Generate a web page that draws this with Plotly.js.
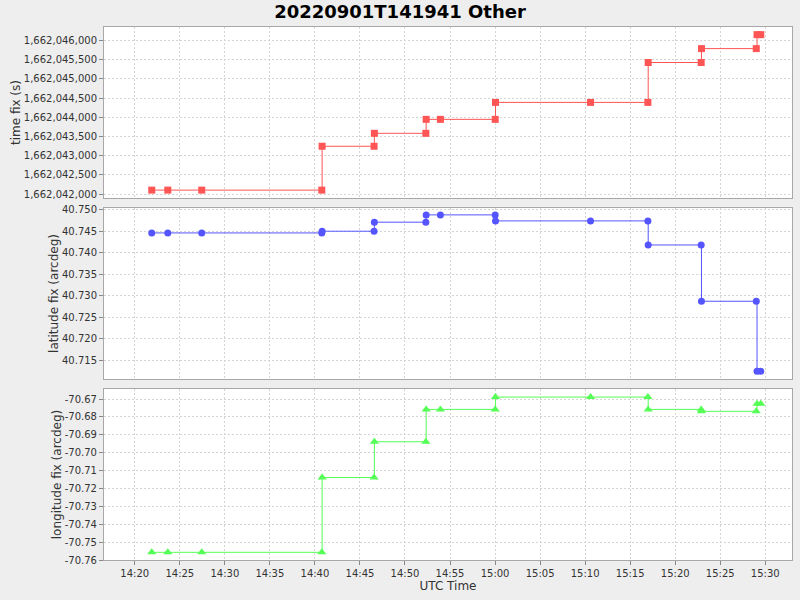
<!DOCTYPE html>
<html>
<head>
<meta charset="utf-8">
<script src="https://cdn.plot.ly/plotly-3.0.1.min.js"></script>
<style>
html,body{margin:0;padding:0;background:#eeeeee;}
#chart{width:800px;height:600px;}
</style>
</head>
<body>
<div id="chart"></div>
<script>
// UTC report times (2022-09-01)
var times = [
  "2022-09-01 14:21:53", "2022-09-01 14:23:40", "2022-09-01 14:27:26",
  "2022-09-01 14:40:46", "2022-09-01 14:40:48",
  "2022-09-01 14:46:34", "2022-09-01 14:46:36",
  "2022-09-01 14:52:19", "2022-09-01 14:52:21",
  "2022-09-01 14:53:56",
  "2022-09-01 15:00:01", "2022-09-01 15:00:03",
  "2022-09-01 15:10:36",
  "2022-09-01 15:16:58", "2022-09-01 15:17:00",
  "2022-09-01 15:22:53", "2022-09-01 15:22:55",
  "2022-09-01 15:29:00", "2022-09-01 15:29:05",
  "2022-09-01 15:29:30"
];
// time fix (s)
var timeFix = [
  1662042104, 1662042104, 1662042104,
  1662042104, 1662043247,
  1662043247, 1662043584,
  1662043584, 1662043948,
  1662043948,
  1662043948, 1662044390,
  1662044390,
  1662044390, 1662045429,
  1662045429, 1662045792,
  1662045792, 1662046156,
  1662046156
];
// latitude fix (arcdeg)
var latFix = [
  40.7446, 40.7446, 40.7446,
  40.7446, 40.7450,
  40.7450, 40.7471,
  40.7471, 40.7488,
  40.7488,
  40.7488, 40.7474,
  40.7474,
  40.7474, 40.7418,
  40.7418, 40.7287,
  40.7287, 40.7124,
  40.7124
];
// longitude fix (arcdeg)
var lonFix = [
  -70.7557, -70.7557, -70.7557,
  -70.7557, -70.7139,
  -70.7139, -70.6939,
  -70.6939, -70.6758,
  -70.6758,
  -70.6758, -70.6689,
  -70.6689,
  -70.6689, -70.6758,
  -70.6758, -70.6769,
  -70.6769, -70.6726,
  -70.6726
];
// tick labels
var xTickVals = ["2022-09-01 14:20", "2022-09-01 14:25", "2022-09-01 14:30", "2022-09-01 14:35",
  "2022-09-01 14:40", "2022-09-01 14:45", "2022-09-01 14:50", "2022-09-01 14:55",
  "2022-09-01 15:00", "2022-09-01 15:05", "2022-09-01 15:10", "2022-09-01 15:15",
  "2022-09-01 15:20", "2022-09-01 15:25", "2022-09-01 15:30"];
var xTickText = ["14:20", "14:25", "14:30", "14:35", "14:40", "14:45", "14:50", "14:55",
  "15:00", "15:05", "15:10", "15:15", "15:20", "15:25", "15:30"];
var lonTickVals = [-70.67, -70.68, -70.69, -70.70, -70.71, -70.72, -70.73, -70.74, -70.75, -70.76];
var lonTickText = ["-70.67", "-70.68", "-70.69", "-70.70", "-70.71", "-70.72", "-70.73", "-70.74", "-70.75", "-70.76"];

var FONT = "DejaVu Sans, Verdana, sans-serif";
var xRange = ["2022-09-01 14:16:35", "2022-09-01 15:32:58"];

var traces = [
  {x: times, y: timeFix, xaxis: "x", yaxis: "y", type: "scatter", mode: "lines+markers",
   line: {shape: "hv", color: "#ff5555", width: 1},
   marker: {symbol: "square", size: 7, color: "#ff5555"}, name: "time fix"},
  {x: times, y: latFix, xaxis: "x2", yaxis: "y2", type: "scatter", mode: "lines+markers",
   line: {shape: "hv", color: "#5555ff", width: 1},
   marker: {symbol: "circle", size: 7, color: "#5555ff"}, name: "latitude fix"},
  {x: times, y: lonFix, xaxis: "x3", yaxis: "y3", type: "scatter", mode: "lines+markers",
   line: {shape: "hv", color: "#55ff55", width: 1},
   marker: {symbol: "triangle-up", size: 8, color: "#55ff55"}, name: "longitude fix"}
];

function xAxis(anchor, labels) {
  return {
    type: "date", range: xRange, anchor: anchor, matches: anchor === "y3" ? undefined : "x3",
    tickmode: "array", tickvals: xTickVals, ticktext: xTickText,
    showticklabels: labels, ticks: labels ? "outside" : "", ticklen: 4, tickcolor: "#888888",
    showgrid: true, gridcolor: "#d4d4d4", griddash: "2px,2px", gridwidth: 1,
    showline: true, mirror: true, linecolor: "#a8a8a8", linewidth: 1,
    zeroline: false, tickfont: {family: FONT, size: 10, color: "#333333"}
  };
}
function yAxis(domain, title, extra) {
  var a = {
    domain: domain, anchor: extra.anchor,
    title: {text: title, font: {family: FONT, size: 12, color: "#333333"}, standoff: 0},
    ticks: "outside", ticklen: 4, tickcolor: "#888888",
    showgrid: true, gridcolor: "#d4d4d4", griddash: "2px,2px", gridwidth: 1,
    showline: true, mirror: true, linecolor: "#a8a8a8", linewidth: 1,
    zeroline: false, tickfont: {family: FONT, size: 10, color: "#333333"}
  };
  for (var k in extra) a[k] = extra[k];
  return a;
}

var layout = {
  width: 800, height: 600,
  paper_bgcolor: "#eeeeee", plot_bgcolor: "#ffffff",
  margin: {l: 104, r: 8, t: 27, b: 40},
  showlegend: false,
  title: {text: "<b>20220901T141941 Other</b>", font: {family: FONT, size: 18, color: "#000000"},
          x: 0.5, xanchor: "center", xref: "container", y: 0.98, yanchor: "middle", yref: "container"},
  xaxis: xAxis("y", false),
  xaxis2: xAxis("y2", false),
  xaxis3: (function(){ var a = xAxis("y3", true);
    a.title = {text: "UTC Time", font: {family: FONT, size: 12, color: "#333333"}, standoff: 2};
    return a; })(),
  yaxis: yAxis([0.679, 1], "time fix (s)",
    {anchor: "x", range: [1662041896, 1662046355], dtick: 500, tick0: 1662042000, tickformat: ",d"}),
  yaxis2: yAxis([0.3396, 0.6604], "latitude fix (arcdeg)",
    {anchor: "x2", range: [40.7106, 40.7504], dtick: 0.005, tick0: 40.715, tickformat: ".3f"}),
  yaxis3: yAxis([0, 0.3208], "longitude fix (arcdeg)",
    {anchor: "x3", range: [-70.76, -70.6644], tickmode: "array", tickvals: lonTickVals, ticktext: lonTickText})
};

Plotly.newPlot("chart", traces, layout, {staticPlot: true, displayModeBar: false});
</script>
</body>
</html>
